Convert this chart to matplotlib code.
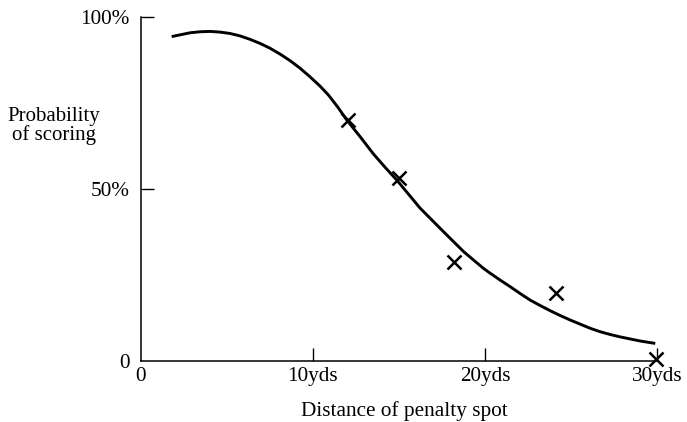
import matplotlib
matplotlib.use("Agg")
import matplotlib.pyplot as plt

# smooth curve (yds, %)
curve_x = [1.80, 2.87, 3.45, 4.03, 4.61, 5.19, 5.77, 6.35, 6.94, 7.52,
           8.10, 8.68, 9.26, 9.84, 10.42, 10.91, 11.45, 11.98, 12.75, 13.52,
           14.20, 14.88, 16.24, 17.59, 18.76, 19.92, 20.31, 20.89, 21.47,
           22.05, 22.63, 23.22, 23.80, 24.38, 24.96, 25.54, 26.12, 26.70,
           27.28, 27.86, 28.44, 29.03, 29.90]
curve_y = [94.4, 95.5, 95.8, 95.9, 95.7, 95.3, 94.6, 93.6, 92.4, 91.0,
           89.3, 87.4, 85.2, 82.7, 80.0, 77.4, 73.9, 70.1, 65.3, 60.3,
           56.4, 52.7, 44.5, 37.7, 31.9, 27.0, 25.6, 23.6, 21.7,
           19.7, 17.8, 16.2, 14.7, 13.3, 12.0, 10.8, 9.6, 8.6,
           7.8, 7.1, 6.5, 5.9, 5.2]

# observed points (crosses)
obs_x = [12.05, 15.0, 18.2, 24.15, 29.95]
obs_y = [70.1, 53.2, 28.8, 20.0, 0.7]

x_ticks = [0, 10, 20, 30]
x_tick_labels = ["0", "10yds", "20yds", "30yds"]
y_ticks = [0, 50, 100]
y_tick_labels = ["0", "50%", "100%"]

plt.rcParams["font.family"] = ["Liberation Serif", "DejaVu Serif"]

fig = plt.figure(figsize=(6.87, 4.22), dpi=100)
ax = fig.add_axes([0.2048, 0.1438, 0.9563 - 0.2048, 0.959 - 0.1438])

ax.plot(curve_x, curve_y, color="black", linewidth=2.1,
        solid_capstyle="butt", solid_joinstyle="round")
ax.plot(obs_x, obs_y, linestyle="none", marker="x", markersize=10,
        markeredgewidth=1.8, color="black", clip_on=False, zorder=5)

ax.set_xlim(0, 30)
ax.set_ylim(0, 100)

ax.spines["top"].set_visible(False)
ax.spines["right"].set_visible(False)
for side in ("left", "bottom"):
    ax.spines[side].set_linewidth(1.1)

ax.set_xticks(x_ticks)
ax.set_xticklabels(x_tick_labels)
ax.set_yticks(y_ticks)
ax.set_yticklabels(y_tick_labels)
ax.tick_params(direction="in", length=9.5, width=1.0, labelsize=15.3, colors="black")
ax.tick_params(axis="x", pad=4)
ax.tick_params(axis="y", pad=8)
# the ticks at both ends sit on the other spine in the picture, drop them
ax.xaxis.get_major_ticks()[0].tick1line.set_visible(False)
ax.yaxis.get_major_ticks()[0].tick1line.set_visible(False)

ax.set_xlabel("Distance of penalty spot", fontsize=15.3)
ax.xaxis.set_label_coords((404 - 140.7) / (657 - 140.7), -0.115)

fig.text(53.5 / 687, 1 - 126 / 422, "Probability\nof scoring", fontsize=15.0,
         ha="center", va="center", multialignment="center", linespacing=0.92)

fig.savefig("out.png", dpi=100)
